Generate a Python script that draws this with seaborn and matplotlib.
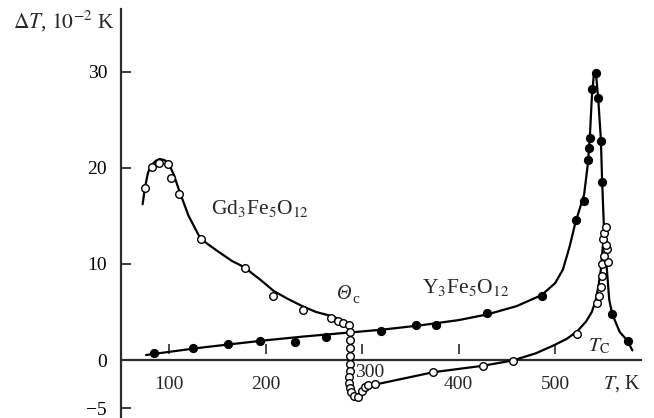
import matplotlib
matplotlib.use("Agg")
import matplotlib.pyplot as plt
import numpy as np
import pandas as pd
import seaborn as sns

sns.set_theme(style="white")
plt.rcParams['font.family'] = ['Liberation Serif', 'DejaVu Serif']
plt.rcParams['mathtext.fontset'] = 'stix'

# ---------------- data ----------------
# Y3Fe5O12 measured points (filled circles)
y_T = [84.5, 124.2, 160.5, 194, 230.3, 262.4, 319.4, 355.6, 377, 429, 486,
       521.4, 529.7, 534.5, 535.5, 536.3, 537.7, 542.2, 544.6, 547.4, 548.7, 559, 575]
y_dT = [0.73, 1.2, 1.7, 2.0, 1.83, 2.35, 3.04, 3.63, 3.63, 4.87, 6.66,
        14.6, 16.5, 20.8, 22.0, 23.1, 28.2, 29.8, 27.2, 22.8, 18.5, 4.8, 2.0]

# Y3Fe5O12 fitted curve
yc_T = [76, 100, 130, 160, 200, 240, 280, 320, 360, 400, 430, 460, 486, 500, 508,
        515, 521, 526, 530, 534, 536, 538, 540, 542, 544.6, 547.4, 548.7, 550.5,
        553.3, 556, 559, 567, 575, 580]
yc_dT = [0.52, 0.85, 1.25, 1.6, 2.05, 2.45, 2.8, 3.15, 3.6, 4.15, 4.75, 5.6, 6.75,
         8.0, 9.4, 11.8, 14.3, 15.9, 17.2, 20.5, 23.3, 27.3, 29.6, 30.1, 27.2, 22.9,
         18.5, 13.9, 9.8, 6.3, 4.8, 2.9, 2.0, 1.0]

# Gd3Fe5O12 measured points (open circles)
g_T = [74.8, 81.8, 89.6, 99, 101.5, 110.4, 132.5, 178.4, 207.8, 238.2, 267.6,
       274.5, 280.3, 286.2,
       287, 287.5, 287.5, 287.5, 287.5, 287, 286.5, 286.5, 287.2,
       288.5, 291, 295.5, 299.4, 303, 306.2, 313.2,
       373.6, 425.4, 456.5, 522.8,
       543.5, 545.6, 547.4, 548.7, 548.7, 554.9, 550.5, 553.9, 552.5, 549.7, 550.5, 552.2]
g_dT = [17.9, 20.1, 20.5, 20.4, 18.9, 17.3, 12.6, 9.6, 6.7, 5.2, 4.4,
        4.05, 3.9, 3.6,
        2.9, 2.05, 1.25, 0.45, -0.4, -1.1, -1.8, -2.4, -2.9,
        -3.3, -3.75, -3.8, -3.2, -2.8, -2.6, -2.5,
        -1.27, -0.6, -0.1, 2.7,
        5.9, 6.7, 7.6, 8.7, 10.0, 10.2, 10.8, 11.5, 12.0, 12.6, 13.2, 13.8]

# Gd3Fe5O12 fitted curve
gc_T = [72.4, 75, 78, 82, 86, 90, 95, 100, 105, 110, 120, 132.5, 149, 165, 177,
        195, 208, 222, 238, 252, 267, 275, 282, 286, 287.8, 288.2, 288.2, 288.0,
        288.0, 288.6, 290.5, 293.5, 297, 302, 311, 330, 373.6, 425, 456, 480, 498,
        512, 523, 532, 538, 542, 545, 547.5, 549.5]
gc_dT = [16.2, 18.0, 19.5, 20.3, 20.7, 20.9, 20.8, 20.3, 19.2, 17.7, 15.0, 12.6,
         11.4, 10.3, 9.7, 8.3, 7.2, 6.4, 5.6, 5.0, 4.6, 4.3, 3.9, 3.5, 3.0, 2.0,
         0.5, -1.0, -2.2, -3.0, -3.6, -3.9, -3.7, -3.2, -2.6, -2.2, -1.27, -0.6,
         -0.05, 0.7, 1.5, 2.2, 3.0, 4.0, 5.0, 6.2, 7.8, 9.5, 12.0]

x_ticks = [100, 200, 300, 400, 500]
x_tick_labels = ["100", "200", "300", "400", "500"]
y_ticks = [30, 20, 10, 0, -5]
y_tick_labels = ["30", "20", "10", "0", "\u22125"]

df_y = pd.DataFrame({"T": y_T, "dT": y_dT})
df_yc = pd.DataFrame({"T": yc_T, "dT": yc_dT})
df_g = pd.DataFrame({"T": g_T, "dT": g_dT})
df_gc = pd.DataFrame({"T": gc_T, "dT": gc_dT})

# ---------------- figure ----------------
INK = "#2b2b2b"
fig = plt.figure(figsize=(6.54, 4.18), dpi=100)
ax = fig.add_axes([121 / 654, 0, 521 / 654, 409 / 418])
ax.set_xlim(50, 590)
ax.set_ylim(-6.03, 36.5)

sns.lineplot(data=df_yc, x="T", y="dT", sort=False, estimator=None,
             color="black", linewidth=1.6, ax=ax, zorder=3)
sns.lineplot(data=df_gc, x="T", y="dT", sort=False, estimator=None,
             color="black", linewidth=1.6, ax=ax, zorder=3)
sns.scatterplot(data=df_y, x="T", y="dT", marker="o", s=34, color="black",
                edgecolor="black", linewidth=0.8, ax=ax, zorder=5)
sns.scatterplot(data=df_g, x="T", y="dT", marker="o", s=30, facecolor="white",
                edgecolor="black", linewidth=1.0, ax=ax, zorder=6)

# axes styling
for s in ["top", "right", "bottom"]:
    ax.spines[s].set_visible(False)
ax.spines["left"].set_color(INK)
ax.spines["left"].set_linewidth(1.6)
ax.axhline(0, color=INK, linewidth=1.6, zorder=2)

ax.set_yticks(y_ticks)
ax.set_yticklabels(y_tick_labels)
ax.tick_params(axis="y", direction="in", length=7, width=1.3, color=INK,
               pad=10, labelsize=14, labelcolor="black", left=True)
ax.set_xticks([])
ax.set_xlabel("")
ax.set_ylabel("")

# floating x tick marks above the axis
ax.vlines(x_ticks, 0.6, 1.65, color=INK, linewidth=1.2, zorder=2)
for t, lab in zip(x_ticks, x_tick_labels):
    if t == 300:
        ax.text(308, -1.76, lab, ha="center", va="baseline", fontsize=14)
    else:
        ax.text(t, -3.0, lab, ha="center", va="baseline", fontsize=14)

# axis titles
ax.text(549.4, -3.0, "$T$, K", ha="left", va="baseline", fontsize=14.5)
fig.text(13 / 654, 1 - 28 / 418, r"$\Delta T$, $10^{-2}$ K", ha="left",
         va="baseline", fontsize=15.5)

# annotations
ax.text(143.2, 15.2, r"Gd$_3$Fe$_5$O$_{12}$", ha="left", va="baseline", fontsize=15.5)
ax.text(362, 7.0, r"Y$_3$Fe$_5$O$_{12}$", ha="left", va="baseline", fontsize=15.5)
ax.text(274, 6.3, "\u0398", ha="left", va="baseline", fontsize=14.5, fontstyle="italic")
ax.text(289.5, 5.9, "c", ha="left", va="baseline", fontsize=11)
ax.text(534, 0.9, r"$T_{\rm C}$", ha="left", va="baseline", fontsize=14.5)

fig.savefig("out.png", dpi=100)
